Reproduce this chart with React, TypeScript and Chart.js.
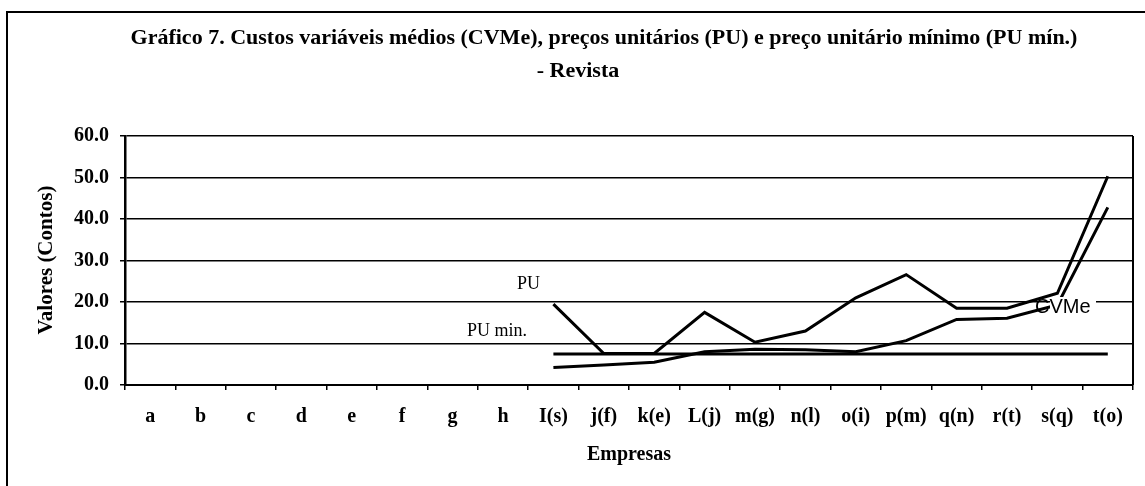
import React, { useEffect, useRef } from "react";
import { Chart, registerables } from "chart.js";

Chart.register(...registerables);

const categories = ["a", "b", "c", "d", "e", "f", "g", "h", "I(s)", "j(f)", "k(e)", "L(j)", "m(g)", "n(l)", "o(i)", "p(m)", "q(n)", "r(t)", "s(q)", "t(o)"];
const puValues = [null, null, null, null, null, null, null, null, 19.5, 7.6, 7.6, 17.5, 10.3, 13.0, 21.0, 26.6, 18.5, 18.5, 22.1, 50.3];
const cvmeValues = [null, null, null, null, null, null, null, null, 4.2, 4.8, 5.5, 8.0, 8.6, 8.5, 8.0, 10.7, 15.8, 16.1, 19.3, 42.8];
const puMinValues = [null, null, null, null, null, null, null, null, 7.5, 7.5, 7.5, 7.5, 7.5, 7.5, 7.5, 7.5, 7.5, 7.5, 7.5, 7.5];
const yTicks = [0, 10, 20, 30, 40, 50, 60];

const titleLine1 = "Gráfico 7. Custos variáveis médios (CVMe), preços unitários (PU) e preço unitário mínimo (PU mín.)";
const titleLine2 = "- Revista";
const xTitle = "Empresas";
const yTitle = "Valores (Contos)";

const W = 1145;
const H = 486;
const SERIF = "'Liberation Serif', 'Times New Roman', serif";

const decorPlugin = {
  id: "decor",
  beforeDraw(chart: any) {
    const ctx = chart.ctx;
    ctx.save();
    ctx.fillStyle = "#fff";
    ctx.fillRect(0, 0, W, H);
    ctx.strokeStyle = "#000";
    ctx.lineWidth = 2;
    ctx.beginPath();
    ctx.moveTo(7, H);
    ctx.lineTo(7, 12);
    ctx.lineTo(W, 12);
    ctx.stroke();
    ctx.fillStyle = "#000";
    ctx.textAlign = "center";
    ctx.textBaseline = "middle";
    ctx.font = "bold 22px " + SERIF;
    ctx.fillText(titleLine1, 604, 38);
    ctx.fillText(titleLine2, 578, 71);
    ctx.font = "bold 20px " + SERIF;
    ctx.fillText(xTitle, 629, 455);
    ctx.translate(47, 260);
    ctx.rotate(-Math.PI / 2);
    ctx.font = "bold 21px " + SERIF;
    ctx.fillText(yTitle, 0, 0);
    ctx.restore();
  },
  afterDatasetsDraw(chart: any) {
    const ctx = chart.ctx;
    const a = chart.chartArea;
    ctx.save();
    ctx.strokeStyle = "#000";
    ctx.lineWidth = 2;
    ctx.beginPath();
    ctx.moveTo(a.right, a.top);
    ctx.lineTo(a.right, a.bottom);
    ctx.stroke();
    ctx.fillStyle = "#000";
    ctx.textBaseline = "middle";
    ctx.textAlign = "left";
    ctx.font = "18px " + SERIF;
    ctx.fillText("PU", 517, 284);
    ctx.fillText("PU min.", 467, 331);
    ctx.font = "20px 'Liberation Sans', Arial, sans-serif";
    ctx.fillStyle = "#fff";
    ctx.fillRect(1050, 297, 46, 20);
    ctx.fillStyle = "#000";
    ctx.fillText("CVMe", 1035, 307);
    ctx.restore();
  },
};

export default function App() {
  const ref = useRef<HTMLCanvasElement | null>(null);
  useEffect(() => {
    if (!ref.current) return;
    const lineDs = (label: string, data: any[]) => ({
      label,
      data,
      borderColor: "#000",
      backgroundColor: "#000",
      borderWidth: 3,
      pointRadius: 0,
      tension: 0,
      spanGaps: false,
    });
    const chart = new Chart(ref.current, {
      type: "line",
      data: {
        labels: categories,
        datasets: [
          lineDs("PU mín.", puMinValues),
          lineDs("CVMe", cvmeValues),
          lineDs("PU", puValues),
        ],
      },
      options: {
        animation: false,
        responsive: false,
        layout: { padding: { left: 20, right: 12, top: 136, bottom: 0 } },
        plugins: {
          legend: { display: false },
          tooltip: { enabled: false },
          title: { display: false },
        },
        scales: {
          x: {
            offset: true,
            grid: {
              offset: true,
              display: true,
              drawOnChartArea: false,
              drawTicks: true,
              tickLength: 5,
              color: "#000",
              lineWidth: 1.5,
            },
            border: { display: true, color: "#000", width: 2 },
            ticks: {
              color: "#000",
              font: { family: SERIF, size: 20, weight: "bold" },
              padding: 15,
              maxRotation: 0,
              autoSkip: false,
            },
            afterFit(scale: any) {
              scale.height = 101;
            },
          },
          y: {
            min: 0,
            max: 60,
            afterBuildTicks(scale: any) {
              scale.ticks = yTicks.map((v) => ({ value: v }));
            },
            grid: {
              color: "#000",
              lineWidth: 1.5,
              drawTicks: true,
              tickLength: 5,
            },
            border: { display: true, color: "#000", width: 2.5 },
            ticks: {
              color: "#000",
              font: { family: SERIF, size: 20, weight: "bold" },
              padding: 11,
              callback: (v: any) => Number(v).toFixed(1),
            },
            afterFit(scale: any) {
              scale.width = 105;
            },
          },
        },
      },
      plugins: [decorPlugin],
    });
    return () => chart.destroy();
  }, []);
  return (
    <div style={{ position: "absolute", left: 0, top: 0, width: W, height: H, background: "#fff" }}>
      <canvas ref={ref} width={W} height={H} style={{ display: "block" }} />
    </div>
  );
}
